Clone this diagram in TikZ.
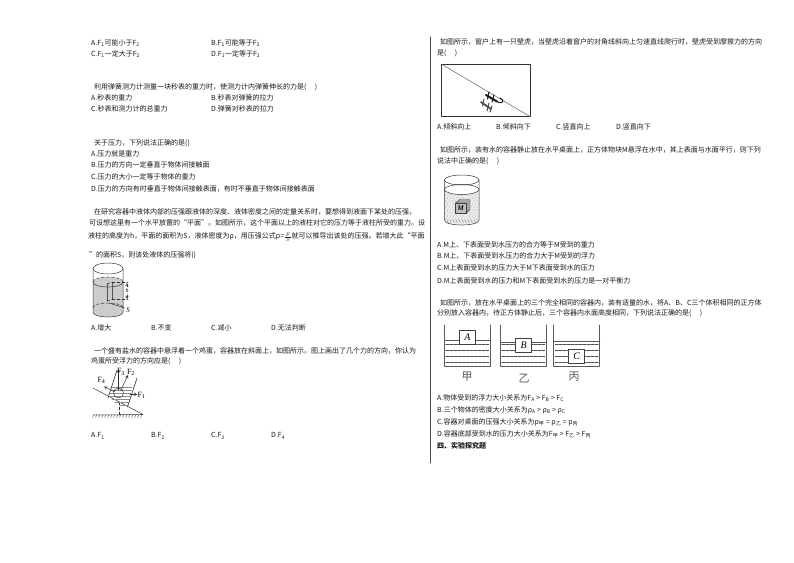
\documentclass[tikz,border=0pt]{standalone}
\usepackage{fontspec}
\setmainfont{Noto Sans CJK SC}
\newfontfamily\figfont{Liberation Serif}
\tikzset{
	qtext/.style={anchor=west,inner sep=0pt,font=\fontsize{7}{8}\selectfont,text=black!90},
	lab/.style={inner sep=0pt,font=\figfont\fontsize{8}{8}\selectfont},
	wall/.style={color=black!65,line width=1pt},
	cup/.style={color=black!80,line width=0.5pt},
	waterline/.style={color=black!70,line width=0.7pt,dash pattern=on 3pt off 1pt},
	block/.style={draw=black!75,fill=white,line width=0.7pt,inner sep=0pt,minimum width=16pt,minimum height=14pt,font=\figfont\itshape\fontsize{10}{10}\selectfont}
}
\newcommand{\Fs}[1]{F\textsubscript{#1}}
\newcommand{\dou}{\char"FF0C\relax}
\begin{document}
\begin{tikzpicture}[line cap=round,line join=round,>=stealth,x=1pt,y=-1pt]
		\useasboundingbox (0,0) rectangle (794,562);
		% left column
		\node[qtext] (q1a) at (91,43) {A.\Fs{1}可能小于\Fs{2}};
		\node[qtext] (q1b) at (211,43) {B.\Fs{1}可能等于\Fs{2}};
		\node[qtext] (q1c) at (91,54) {C.\Fs{1}一定大于\Fs{2}};
		\node[qtext] (q1d) at (211,54) {D.\Fs{1}一定等于\Fs{2}};
		\node[qtext] (q2) at (94,87) {利用弹簧测力计测量一块秒表的重力时\dou 使测力计内弹簧伸长的力是(\hspace{1.2em})};
		\node[qtext] (q2a) at (91,98) {A.秒表的重力};
		\node[qtext] (q2b) at (211,98) {B.秒表对弹簧的拉力};
		\node[qtext] (q2c) at (91,109) {C.秒表和测力计的总重力};
		\node[qtext] (q2d) at (211,109) {D.弹簧对秒表的拉力};
		\node[qtext] (q3) at (94,143) {关于压力\dou 下列说法正确的是()};
		\node[qtext] (q3a) at (91,154) {A.压力就是重力};
		\node[qtext] (q3b) at (91,165) {B.压力的方向一定垂直于物体间接触面};
		\node[qtext] (q3c) at (91,177) {C.压力的大小一定等于物体的重力};
		\node[qtext] (q3d) at (91,189) {D.压力的方向有时垂直于物体间接触表面\dou 有时不垂直于物体间接触表面};
		\node[qtext] (q4) at (94,212) {在研究容器中液体内部的压强跟液体的深度、液体密度之间的定量关系时\dou 要想得到液面下某处的压强\dou};
		\node[qtext] (q4l) at (89,223) {可设想这里有一个水平放置的“平面”。如图所示\dou 这个平面以上的液柱对它的压力等于液柱所受的重力。设};
		\node[qtext] (q4m) at (88,237) {液柱的高度为h\dou 平面的面积为S\dou 液体密度为ρ\dou 用压强公式p=$\frac{F}{S}$就可以推导出该处的压强。若增大此“平面};
		\node[qtext] (q4n) at (89,255) {”的面积S\dou 则该处液体的压强将()};
		\node[qtext] (q4a) at (91,328) {A.增大};
		\node[qtext] (q4b) at (151,328) {B.不变};
		\node[qtext] (q4c) at (211,328) {C.减小};
		\node[qtext] (q4d) at (271,328) {D.无法判断};
		\node[qtext] (q5) at (94,351) {一个盛有盐水的容器中悬浮着一个鸡蛋\dou 容器放在斜面上\dou 如图所示。图上画出了几个力的方向\dou 你认为};
		\node[qtext] (q5l) at (91,361) {鸡蛋所受浮力的方向应是(\hspace{1.2em})};
		\node[qtext] (q5a) at (91,436) {A.\Fs{1}};
		\node[qtext] (q5b) at (151,436) {B.\Fs{2}};
		\node[qtext] (q5c) at (211,436) {C.\Fs{3}};
		\node[qtext] (q5d) at (271,436) {D.\Fs{4}};
		% column rule
		\draw[color=black!70,line width=0.8pt] (430,37)-- (430,463);
		% right column
		\node[qtext] (q6) at (440,42) {如图所示\dou 窗户上有一只壁虎\dou 当壁虎沿着窗户的对角线斜向上匀速直线爬行时\dou 壁虎受到摩擦力的方向};
		\node[qtext] (q6l) at (437,53) {是(\hspace{1.2em})};
		\node[qtext] (q6a) at (437,127) {A.倾斜向上};
		\node[qtext] (q6b) at (496,127) {B.倾斜向下};
		\node[qtext] (q6c) at (556,127) {C.竖直向上};
		\node[qtext] (q6d) at (616,127) {D.竖直向下};
		\node[qtext] (q7) at (440,150) {如图所示\dou 装有水的容器静止放在水平桌面上\dou 正方体物块M悬浮在水中\dou 其上表面与水面平行\dou 则下列};
		\node[qtext] (q7l) at (437,161) {说法中正确的是(\hspace{1.2em})};
		\node[qtext] (q7a) at (437,245) {A.M上、下表面受到水压力的合力等于M受到的重力};
		\node[qtext] (q7b) at (437,256) {B.M上、下表面受到水压力的合力大于M受到的浮力};
		\node[qtext] (q7c) at (437,268) {C.M上表面受到水的压力大于M下表面受到水的压力};
		\node[qtext] (q7d) at (437,281) {D.M上表面受到水的压力和M下表面受到水的压力是一对平衡力};
		\node[qtext] (q8) at (440,303) {如图所示\dou 放在水平桌面上的三个完全相同的容器内\dou 装有适量的水\dou 将A、B、C三个体积相同的正方体};
		\node[qtext] (q8l) at (437,313) {分别放入容器内\dou 待正方体静止后\dou 三个容器内水面高度相同\dou 下列说法正确的是(\hspace{1.2em})};
		\node[qtext] (q8a) at (437,398) {A.物体受到的浮力大小关系为F\textsubscript{A} > F\textsubscript{B} > F\textsubscript{C}};
		\node[qtext] (q8b) at (437,410) {B.三个物体的密度大小关系为ρ\textsubscript{A} > ρ\textsubscript{B} > ρ\textsubscript{C}};
		\node[qtext] (q8c) at (437,422) {C.容器对桌面的压强大小关系为p\textsubscript{甲} = p\textsubscript{乙} = p\textsubscript{丙}};
		\node[qtext] (q8d) at (437,434) {D.容器底部受到水的压力大小关系为F\textsubscript{甲} > F\textsubscript{乙} > F\textsubscript{丙}};
		\node[qtext,font=\bfseries\fontsize{7}{8}\selectfont] (q9) at (437,446) {四、实验探究题};
		% cylinder with liquid column
		\fill[color=black!20] (93,282) .. controls (93,275.3) and (123,275.3) .. (123,282)-- (123,312) .. controls (123,318.7) and (93,318.7) .. (93,312)-- cycle;
		\draw[cup] (108,268.5) ellipse (15 and 5.5);
		\draw[cup] (93,268.5)-- (93,312) .. controls (93,318.7) and (123,318.7) .. (123,312)-- (123,268.5);
		\draw[cup,densely dashed] (93,282) .. controls (93,275.3) and (123,275.3) .. (123,282);
		\draw[cup] (93,282) .. controls (93,288.7) and (123,288.7) .. (123,282);
		\draw[cup,densely dashed] (93,308) .. controls (93,301.3) and (123,301.3) .. (123,308);
		\draw[cup,densely dotted,line width=0.8pt] (107,284)-- (107,301);
		\draw[cup,densely dotted,line width=0.8pt] (112,282)-- (112,299);
		\draw[cup,densely dashed] (112,282)-- (128,282);
		\draw[cup,densely dashed] (112,299.5)-- (128,299.5);
		\draw[cup,densely dashed] (107,284)-- (112,282);
		\draw[cup,densely dashed] (107,301)-- (112,299.5);
		\draw[cup,<->,densely dashed] (127,283)-- (127,299);
		\draw[cup] (109,303)-- (125,308);
		\fill[white] (124.5,287) rectangle (129.5,293);
		\node[lab,font=\figfont\itshape\fontsize{6}{6}\selectfont] (labh) at (127,290) {h};
		\node[lab,font=\figfont\itshape\fontsize{7}{7}\selectfont] (labs) at (128,310) {S};
		% incline with floating egg
		\draw[cup] (93,388)-- (143,414.5)-- (93,415);
		\foreach \i in {0,...,16}{
			\draw[cup,line width=0.35pt] (94+3*\i,415)-- (92.5+3*\i,417.5);
		}
		\draw[cup,densely dashed] (119.5,402)-- (119.5,415);
		\foreach \h/\a/\b in {387/111/132,390/110.5/131.5,393/110/131,396/109/130.5,399/112/129.5,402/115/128.5,405/120/128}{
			\draw[color=black!45,line width=0.6pt] (\a,\h)-- (\b,\h);
		}
		\draw[cup,line width=0.6pt] (117,370)-- (108,398);
		\draw[cup,line width=0.6pt] (137,378)-- (127.5,407);
		\draw[cup] (118.5,393) circle (5);
		\draw[cup,->] (118.5,390)-- (118.5,369);
		\draw[cup,->] (120.5,391)-- (128,375);
		\draw[cup,->] (130,394.3)-- (137.5,394.3);
		\draw[cup,->] (115,392)-- (104,386.5);
		\node[lab] (labf1) at (141.5,395.5) {\Fs{1}};
		\node[lab] (labf2) at (131,372) {\Fs{2}};
		\node[lab] (labf3) at (121,372) {\Fs{3}};
		\node[lab] (labf4) at (101.5,380) {\Fs{4}};
		% window with gecko
		\draw[color=black!80,line width=1pt] (441.7,64.3) rectangle (530,116.7);
		\draw[color=black!55,line width=0.6pt] (442,64.5)-- (530,116.5);
		\draw[color=black!90,line width=2pt] (486,95)-- (497,101.5);
		\draw[color=black!90,line width=1.1pt] (489,92)-- (487.5,99);
		\draw[color=black!90,line width=1.1pt] (494,95)-- (492,102);
		\draw[color=black!90,line width=1pt] (497,101.5) .. controls (503,105) and (505,100) .. (500,98);
		\draw[color=black!70,line width=1.8pt] (481,102)-- (491,109);
		\draw[color=black!70,line width=1pt] (484,99)-- (482.5,106);
		\draw[color=black!70,line width=1pt] (489,103)-- (487,111);
		\draw[color=black!70,line width=1pt] (492,106)-- (490,112);
		% beaker with cube M
		\fill[color=black!8] (444.5,189.5)-- (444.5,220) .. controls (444.5,226.7) and (479,226.7) .. (479,220)-- (479,189.5)-- cycle;
		\foreach \r in {0,...,8}{
			\foreach \c in {0,...,10}{
				\fill[color=black!65] ({446+3.1*\c+mod(\r,2)*1.5},{195+3*\r}) circle (0.35);
			}
		}
		\foreach \c in {0,...,9}{
			\draw[color=black!55,line width=0.4pt] (447+3*\c,220)-- (448.5+3*\c,222.5);
		}
		\fill[white] (461.7,189.5) ellipse (17.2 and 5);
		\draw[cup] (461.7,180) ellipse (17.3 and 5);
		\draw[cup] (461.7,189.5) ellipse (17.3 and 5);
		\draw[cup] (444.4,180)-- (444.4,220) .. controls (444.4,226.7) and (479,226.7) .. (479,220)-- (479,180);
		\fill[color=black!35,draw=black!75,line width=0.4pt] (455.5,203)-- (459.5,199.5)-- (470,199.5)-- (470,209.5)-- (466,213.5)-- (466,203)-- cycle;
		\draw[color=black!75,fill=black!25,line width=0.5pt] (455.5,203) rectangle (466,213.5);
		\node[lab,font=\figfont\bfseries\itshape\fontsize{7}{7}\selectfont] (labm) at (460.7,208.3) {M};
		% three containers
		\foreach \cx/\wy in {444.3/340.7,500.3/342,553.7/341.3}{
			\draw[wall] (\cx,325)-- (\cx,366.7)-- (\cx+46,366.7)-- (\cx+46,325);
			\draw[wall] (\cx,\wy)-- (\cx+46,\wy);
			\foreach \dy in {344.5,350,356.5,362.5}{
				\draw[waterline] (\cx+1.5,\dy)-- (\cx+44.5,\dy);
			}
		}
		\node[block] (boxa) at (467.5,337) {A};
		\node[block] (boxb) at (523.7,345.3) {B};
		\node[block] (boxc) at (576.7,356) {C};
		\node[lab,font=\fontsize{11}{11}\selectfont,text=black!65] (labjia) at (467,377) {甲};
		\node[lab,font=\fontsize{11}{11}\selectfont,text=black!65] (labyi) at (524,379) {乙};
		\node[lab,font=\fontsize{11}{11}\selectfont,text=black!65] (labbing) at (574,377) {丙};
		\end{tikzpicture}
\end{document}
